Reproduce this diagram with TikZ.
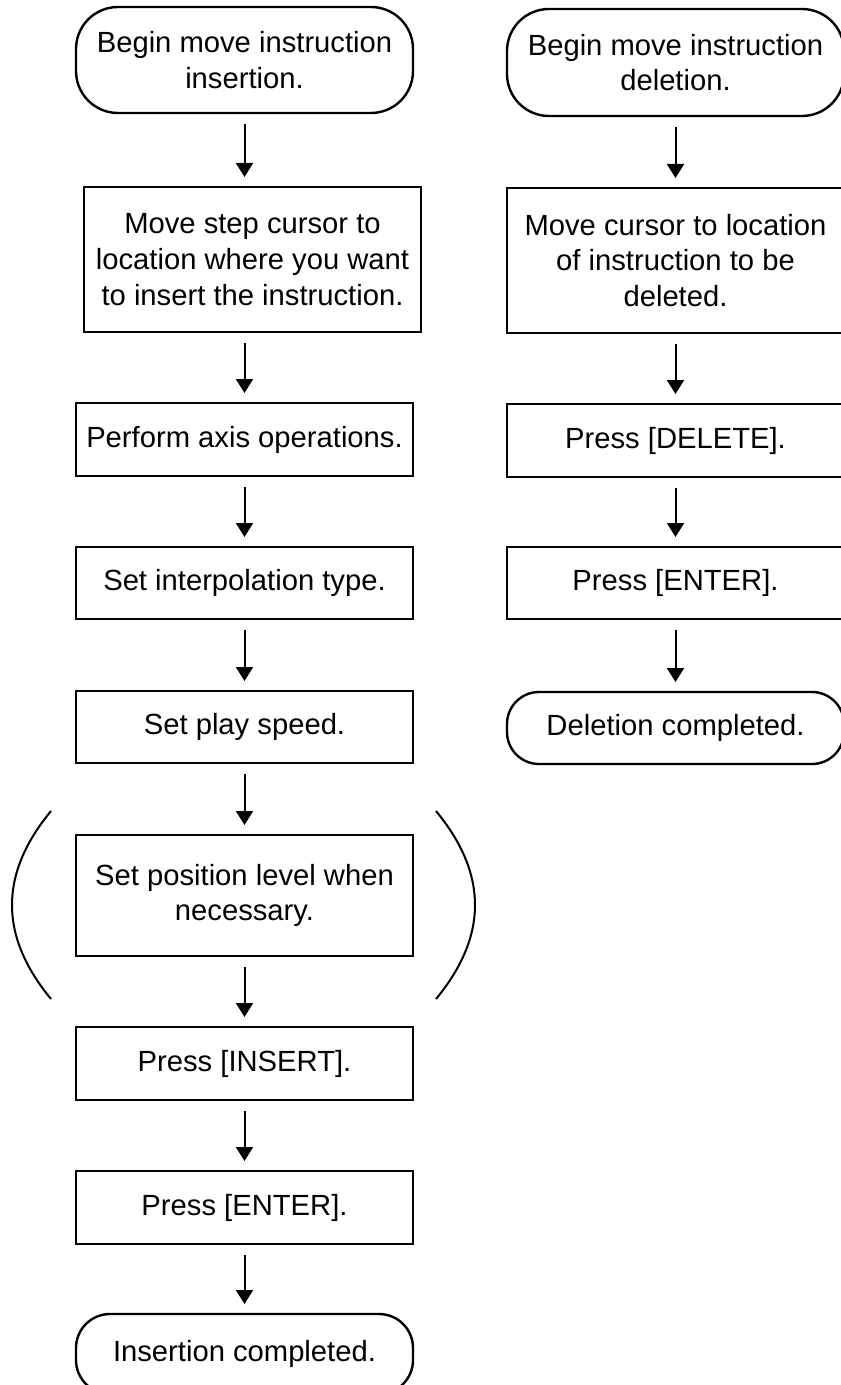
\documentclass[tikz,border=0pt]{standalone}
\usepackage{fontspec}
\setmainfont{Liberation Sans}
\usetikzlibrary{arrows.meta}

\begin{document}
\begin{tikzpicture}[x=0.5pt, y=-0.5pt,
    stepbox/.style={draw, line width=1.2pt, align=center, inner sep=0pt, outer sep=0pt, font=\fontsize{14.6}{17.8}\selectfont},
    termbox/.style={stepbox, rounded corners=17pt},
    arr/.style={-{Triangle[length=7pt,width=8.5pt]}, line width=1pt, shorten <=5.5pt, shorten >=5pt}
]
\useasboundingbox (0,0) rectangle (840,1385);

% insertion
\node[termbox, minimum width=168.5pt, minimum height=53pt, rounded corners=21pt] (bgnI) at (244.5,60) {Begin move instruction\\insertion.};
\node[stepbox, minimum width=168.5pt, minimum height=72.5pt] (mvstep) at (252.5,259.5) {Move step cursor to\\location where you want\\to insert the instruction.};
\node[stepbox, minimum width=168.5pt, minimum height=36.5pt] (axis) at (244.5,439.5) {Perform axis operations.};
\node[stepbox, minimum width=168.5pt, minimum height=36pt] (interp) at (244.5,583) {Set interpolation type.};
\node[stepbox, minimum width=168.5pt, minimum height=36pt] (speed) at (244.5,727) {Set play speed.};
\node[stepbox, minimum width=168.5pt, minimum height=60.5pt] (posn) at (244.5,895.5) {Set position level when\\necessary.};
\node[stepbox, minimum width=168.5pt, minimum height=36.5pt] (insert) at (244.5,1063.5) {Press [INSERT].};
\node[stepbox, minimum width=168.5pt, minimum height=36.5pt] (enterI) at (244.5,1207.5) {Press [ENTER].};
\node[termbox, minimum width=168.5pt, minimum height=40pt] (doneI) at (244.5,1354) {Insertion completed.};

% deletion
\node[termbox, minimum width=168.5pt, minimum height=53.5pt, rounded corners=21pt] (bgnD) at (675.5,62.5) {Begin move instruction\\deletion.};
\node[stepbox, minimum width=168.5pt, minimum height=72.5pt] (mvcur) at (675.5,260.5) {Move cursor to location\\of instruction to be\\deleted.};
\node[stepbox, minimum width=168.5pt, minimum height=36.5pt] (delete) at (675.5,440.5) {Press [DELETE].};
\node[stepbox, minimum width=168.5pt, minimum height=36pt] (enterD) at (675.5,583) {Press [ENTER].};
\node[termbox, minimum width=168.5pt, minimum height=36pt, rounded corners=16pt] (doneD) at (675.5,728) {Deletion completed.};

\draw[arr] (bgnI.south) -- (bgnI.south |- mvstep.north);
\draw[arr] (axis.north |- mvstep.south) -- (axis.north);
\draw[arr] (axis.south) -- (interp.north);
\draw[arr] (interp.south) -- (speed.north);
\draw[arr] (speed.south) -- (posn.north);
\draw[arr] (posn.south) -- (insert.north);
\draw[arr] (insert.south) -- (enterI.north);
\draw[arr] (enterI.south) -- (doneI.north);

\draw[arr] (bgnD.south) -- (mvcur.north);
\draw[arr] (mvcur.south) -- (delete.north);
\draw[arr] (delete.south) -- (enterD.north);
\draw[arr] (enterD.south) -- (doneD.north);

% brackets round the optional step
\draw[line width=1pt] (51,811) .. controls (-1,874) and (-1,936) .. (51,999);
\draw[line width=1pt] (436,811) .. controls (488,874) and (488,936) .. (436,999);
\end{tikzpicture}
\end{document}
